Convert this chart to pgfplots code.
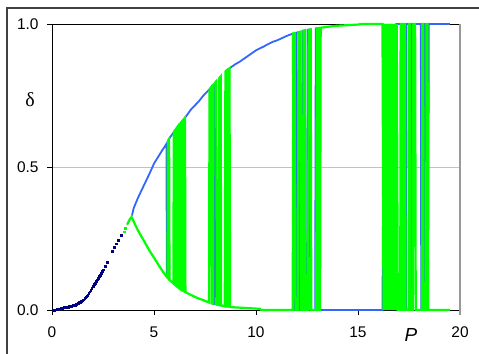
\documentclass[border=0pt]{standalone}
\usepackage{pgfplots}
\pgfplotsset{compat=1.18}
\usepackage{fontspec}
\setmainfont{Liberation Sans}
\newfontfamily\seriffont{Liberation Serif}
\definecolor{cblue}{RGB}{51,102,255}
\definecolor{cgreen}{RGB}{0,255,0}
\definecolor{cnavy}{RGB}{0,0,128}
\definecolor{cgrid}{RGB}{185,185,255}
\definecolor{cframe}{RGB}{64,64,64}
\begin{document}
\begin{tikzpicture}[x=1bp,y=1bp]
\begin{axis}[at={(52bp,44bp)}, anchor=south west,
  width=408bp, height=286bp, scale only axis,
  xmin=0, xmax=20, ymin=0, ymax=1,
  xtick={0,5,10,15,20}, ytick={0,0.5,1},
  tick align=outside, xtick pos=left, ytick pos=left,
  major tick length=5bp,
  tick style={black, line width=0.8bp},
  axis line style={black, line width=0.8bp},
  ymajorgrids, grid style={cgrid, line width=0.8bp},
  yticklabel style={/pgf/number format/fixed, /pgf/number format/fixed zerofill, /pgf/number format/precision=1, xshift=-5bp},
  xticklabel style={yshift=-8bp},
  /pgf/number format/assume math mode=true,
  ticklabel style={font=\fontsize{15.5}{16}\selectfont},
  clip=false]
\addplot[only marks, mark=square*, mark size=0.9bp, color=cnavy] coordinates {
(0.05,0.000)(0.10,0.000)(0.15,0.001)(0.20,0.001)(0.25,0.002)(0.30,0.002)(0.35,0.003)(0.40,0.004)(0.45,0.005)(0.50,0.006)
(0.55,0.008)(0.60,0.009)(0.65,0.010)(0.70,0.010)(0.75,0.011)(0.80,0.011)(0.85,0.012)(0.90,0.013)(0.95,0.014)(1.00,0.015)
(1.05,0.016)(1.10,0.017)(1.15,0.018)(1.20,0.020)(1.25,0.022)(1.30,0.024)(1.35,0.026)(1.40,0.028)(1.45,0.030)(1.50,0.033)
(1.55,0.036)(1.60,0.040)(1.65,0.044)(1.70,0.048)(1.75,0.053)(1.80,0.058)(1.85,0.064)(1.90,0.070)(1.95,0.076)(2.00,0.083)
(2.05,0.089)(2.10,0.095)(2.15,0.100)(2.20,0.106)(2.25,0.111)(2.30,0.117)(2.35,0.123)(2.40,0.129)(2.45,0.135)(2.50,0.141)
(2.60,0.153)(2.70,0.166)(2.95,0.205)(3.05,0.220)(3.15,0.232)(3.25,0.245)(3.40,0.262)
};
\addplot[only marks, mark=square*, mark size=0.9bp, color=cgreen] coordinates {(3.52,0.274)(3.60,0.285)};
\addplot[cblue, line width=1.8bp] coordinates {
(3.92,0.33)(4.0,0.355)(4.2,0.39)(4.4,0.42)(4.6,0.45)(4.8,0.48)(5.0,0.512)(5.2,0.535)(5.4,0.558)(5.55,0.574)
(5.61,0.581)(5.63,0.116)(5.66,0.588)(5.8,0.605)(5.9,0.615)(6.0,0.625)(6.03,0.088)(6.06,0.631)(6.2,0.645)(6.3,0.653)
(6.4,0.662)(6.43,0.067)(6.46,0.667)(6.6,0.68)(6.8,0.70)(7.0,0.715)(7.2,0.73)(7.4,0.748)(7.6,0.763)(7.75,0.774)
(7.83,0.781)(7.87,0.022)(7.95,0.021)(7.98,0.793)(8.02,0.797)(8.06,0.020)(8.3,0.016)(8.5,0.013)(8.55,0.837)(8.7,0.845)
(8.8,0.85)(9.0,0.86)(9.2,0.868)(9.4,0.878)(9.6,0.888)(9.8,0.898)(10.0,0.908)(10.2,0.915)(10.4,0.922)(10.6,0.93)
(10.8,0.937)(11.0,0.942)(11.2,0.948)(11.4,0.955)(11.6,0.961)(11.8,0.966)(11.86,0)(11.96,0)(11.99,0.970)(12.12,0.972)
(12.15,0)(12.25,0)(12.28,0.976)(12.36,0.977)(12.39,0)(12.5,0)(12.53,0.979)(12.63,0.981)(12.66,0)(12.9,0)
(12.93,0.984)(13.1,0.986)(13.13,0)(16.2,0)(16.27,1)(16.33,0)(16.39,1)(16.45,0)(16.51,1)(16.57,0)
(16.63,1)(16.69,0)(16.75,1)(16.81,0)(16.87,1)(17.26,1)(17.28,0)(17.36,0)(17.38,1)(17.6,1)
(17.62,0)(17.66,1)(18.08,1)(18.1,0)(18.26,0)(18.28,1)(18.33,1)(18.38,0)(18.44,0)(18.47,1)(19.5,1)
};
\addplot[cgreen, line width=2.2bp] coordinates {
(3.68,0.298)(3.75,0.308)(3.82,0.318)(3.9,0.325)(4.0,0.31)(4.2,0.28)(4.4,0.255)(4.6,0.23)(4.8,0.205)(5.0,0.183)
(5.2,0.16)(5.4,0.138)(5.6,0.118)(5.66,0.113)(5.68,0.591)(5.74,0.598)(5.76,0.105)(5.95,0.093)(5.97,0.622)(6.01,0.626)
(6.03,0.088)(6.11,0.083)(6.13,0.638)(6.17,0.642)(6.19,0.079)(6.27,0.074)(6.29,0.652)(6.34,0.656)(6.36,0.07)(6.43,0.067)
(6.45,0.666)(6.52,0.672)(6.54,0.063)(6.6,0.06)(6.8,0.053)(7.0,0.046)(7.2,0.04)(7.4,0.035)(7.6,0.029)(7.7,0.026)
(7.72,0.769)(7.8,0.778)(7.83,0.023)(7.9,0.022)(7.92,0.788)(8.05,0.799)(8.08,0.019)(8.18,0.017)(8.2,0.811)(8.27,0.817)
(8.29,0.016)(8.47,0.013)(8.5,0.834)(8.55,0.837)(8.58,0.012)(8.62,0.012)(8.65,0.842)(8.7,0.845)(8.73,0.011)(8.8,0.010)
(9.0,0.009)(9.5,0.007)(10.0,0.005)(10.2,0.004)(10.25,0)(11.8,0)(11.83,0.967)(11.9,0.968)(11.93,0)(12.05,0)
(12.08,0.971)(12.18,0.973)(12.21,0)(12.3,0)(12.33,0.976)(12.4,0.978)(12.43,0)(12.55,0)(12.58,0.98)(12.68,0.981)
(12.71,0)(12.95,0)(12.98,0.985)(13.05,0.9855)(13.08,0)(13.14,0)(13.17,0.987)(13.4,0.989)(13.6,0.991)(14.0,0.994)
(14.5,0.996)(15.0,0.998)(15.2,1)(16.2,1)(16.25,0)(16.3,1)(16.36,0)(16.42,1)(16.48,0)(16.54,1)
(16.6,0)(16.66,1)(16.72,0)(16.78,1)(16.84,0)(16.9,1)(16.95,0)(17.07,0)(17.09,1)(17.15,1)
(17.17,0)(17.23,0)(17.25,1)(17.31,1)(17.33,0)(17.48,0)(17.5,1)(17.55,1)(17.57,0)(17.69,0)
(17.71,1)(17.8,1)(17.83,0)(18.13,0)(18.15,1)(18.2,1)(18.22,0)(18.34,0)(18.36,1)(18.41,1)(18.43,0)(19.5,0)
};
\draw[gray!80, line width=1.5bp] (rel axis cs:1,0) ++(0bp,-5bp) -- (rel axis cs:1,1);
\node[font=\seriffont\fontsize{20}{20}\selectfont] at (axis cs:-1.08,0.734) {δ};
\node[font=\itshape\fontsize{19}{19}\selectfont] at (axis cs:17.6,-0.087) {P};
\end{axis}
\draw[cframe, line width=2bp] (7bp,-5bp) -- (7bp,346bp) -- (490bp,346bp);
\pgfresetboundingbox
\path[use as bounding box] (0,0) rectangle (479bp,354bp);
\end{tikzpicture}
\end{document}
